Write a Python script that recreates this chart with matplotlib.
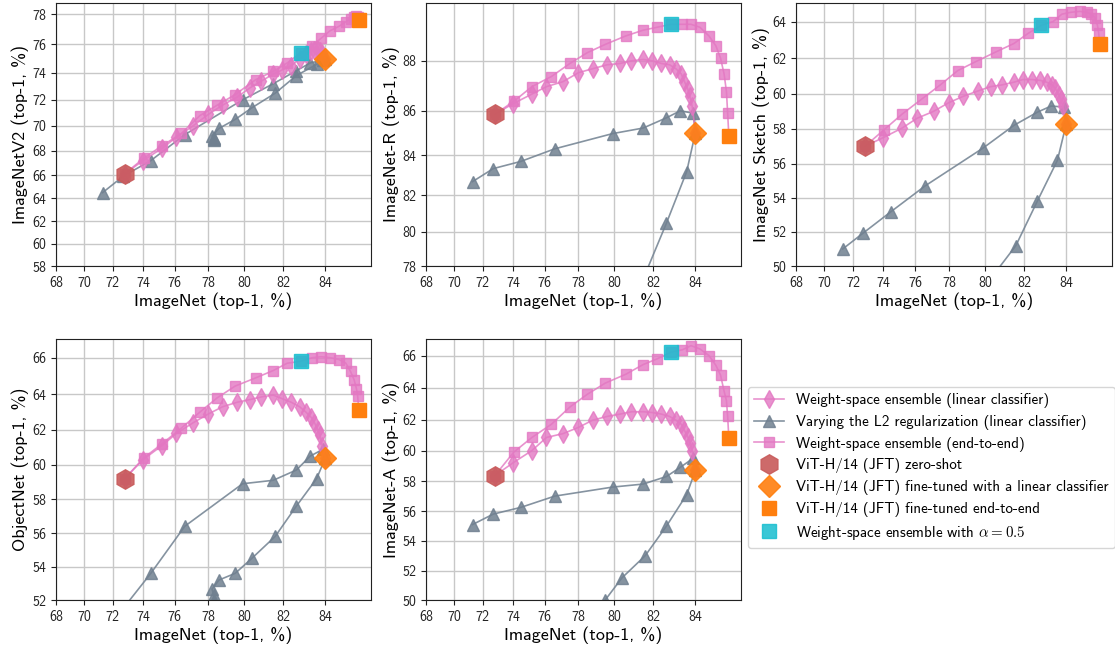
import numpy as np
import matplotlib
matplotlib.use("Agg")
import matplotlib.pyplot as plt

plt.rcParams['font.family'] = ['cmss10', 'DejaVu Sans']
plt.rcParams['mathtext.fontset'] = 'cm'
plt.rcParams['axes.unicode_minus'] = False

# ImageNet (x) accuracy, shared by every panel
imagenet_wse_lc = [72.8, 74.0, 75.2, 76.1, 77.1, 78.0, 78.8, 79.6, 80.3, 80.9, 81.5,
                   81.95, 82.4, 82.8, 83.1, 83.35, 83.5, 83.65, 83.75, 83.85, 84.0]
imagenet_wse_e2e = [72.8, 74.05, 75.2, 76.4, 77.5, 78.5, 79.5, 80.6, 81.5, 82.2, 82.85,
                    83.4, 83.8, 84.2, 84.6, 84.9, 85.1, 85.25, 85.35, 85.4, 85.45]
imagenet_l2 = [71.3, 72.7, 74.5, 76.6, 79.9, 81.5, 82.65, 83.3, 83.9, 84.0,
               83.6, 82.65, 81.6, 80.4, 79.5, 78.6, 78.2, 78.3, 78.3, 78.3]

imagenet_zeroshot = 72.8
imagenet_ft_lc = 84.0
imagenet_ft_e2e = 85.45
imagenet_alpha05 = 82.85

# distribution shift (y) accuracy, one set per panel
v2_wse_lc = [66.1, 67.2, 68.2, 69.1, 70.0, 70.9, 71.6, 72.2, 72.9, 73.4, 73.9,
             74.2, 74.5, 75.0, 75.3, 75.5, 75.6, 75.6, 75.5, 75.4, 75.0]
v2_wse_e2e = [66.1, 67.4, 68.4, 69.4, 70.8, 71.6, 72.4, 73.5, 74.1, 74.7, 75.4,
              75.9, 76.4, 76.9, 77.2, 77.5, 77.7, 77.8, 77.85, 77.8, 77.6]
v2_l2 = [64.5, 65.9, 67.2, 69.3, 72.0, 73.2, 74.15, 74.7, 74.9, 75.0,
         74.6, 73.8, 72.5, 71.4, 70.5, 69.8, 69.2, 69.05, 68.95, 68.9]

r_wse_lc = [85.85, 86.3, 86.7, 87.0, 87.2, 87.55, 87.7, 87.85, 87.9, 88.0, 88.05,
            88.0, 87.9, 87.85, 87.7, 87.5, 87.2, 86.9, 86.6, 86.2, 85.05]
r_wse_e2e = [85.85, 86.4, 87.0, 87.4, 87.9, 88.3, 88.6, 88.9, 89.1, 89.2, 89.3,
             89.3, 89.3, 89.2, 88.9, 88.55, 88.1, 87.5, 86.8, 85.9, 84.9]
r_l2 = [82.7, 83.35, 83.7, 84.3, 85.0, 85.25, 85.7, 86.0, 85.9, 85.05,
        83.2, 80.5, 77.5, 75.5, 74.0, 72.5, 71.5, 71.0, 70.7, 70.5]

sketch_wse_lc = [57.0, 57.5, 58.05, 58.6, 59.0, 59.5, 59.85, 60.15, 60.4, 60.5, 60.65,
                 60.8, 60.8, 60.75, 60.65, 60.5, 60.3, 59.95, 59.7, 59.3, 58.3]
sketch_wse_e2e = [57.0, 57.95, 58.85, 59.7, 60.5, 61.3, 61.8, 62.35, 62.8, 63.35, 63.8,
                  64.0, 64.4, 64.5, 64.55, 64.5, 64.4, 64.2, 63.8, 63.4, 62.8]
sketch_l2 = [51.0, 51.95, 53.2, 54.7, 56.9, 58.2, 58.95, 59.3, 59.25, 58.3,
             56.2, 53.8, 51.2, 49.4, 48.3, 47.3, 46.8, 46.5, 46.3, 46.2]

objnet_wse_lc = [59.2, 60.3, 61.1, 61.8, 62.4, 62.9, 63.3, 63.55, 63.7, 63.85, 63.95,
                 63.75, 63.55, 63.3, 63.0, 62.7, 62.4, 62.0, 61.7, 61.1, 60.4]
objnet_wse_e2e = [59.2, 60.4, 61.2, 62.1, 63.0, 63.8, 64.45, 64.9, 65.3, 65.7, 65.8,
                  66.0, 66.05, 66.0, 65.9, 65.7, 65.25, 64.8, 64.3, 63.9, 63.1]
objnet_l2 = [50.4, 51.5, 53.6, 56.4, 58.9, 59.1, 59.7, 60.5, 60.9, 60.4,
             59.2, 57.6, 55.8, 54.5, 53.6, 53.2, 52.65, 52.3, 52.0, 51.8]

a_wse_lc = [58.35, 59.2, 60.0, 60.85, 61.1, 61.5, 61.96, 62.2, 62.35, 62.5, 62.5,
            62.45, 62.35, 62.2, 61.96, 61.7, 61.3, 60.9, 60.5, 60.0, 58.7]
a_wse_e2e = [58.35, 59.9, 60.85, 61.7, 62.8, 63.6, 64.3, 64.85, 65.45, 65.8, 66.2,
             66.35, 66.6, 66.4, 66.0, 65.4, 64.8, 63.8, 63.2, 62.2, 60.8]
a_l2 = [55.1, 55.8, 56.25, 57.0, 57.6, 57.8, 58.3, 58.9, 59.5, 58.7,
        57.1, 55.0, 53.0, 51.5, 50.0, 49.0, 48.5, 48.2, 48.0, 47.9]

panels = [
    ("ImageNetV2 (top-1, %)", v2_wse_lc, v2_wse_e2e, v2_l2, (58, 78.7), range(58, 79, 2)),
    ("ImageNet-R (top-1, %)", r_wse_lc, r_wse_e2e, r_l2, (78, 90), range(78, 89, 2)),
    ("ImageNet Sketch (top-1, %)", sketch_wse_lc, sketch_wse_e2e, sketch_l2, (50, 65), range(50, 65, 2)),
    ("ObjectNet (top-1, %)", objnet_wse_lc, objnet_wse_e2e, objnet_l2, (52, 67), range(52, 67, 2)),
    ("ImageNet-A (top-1, %)", a_wse_lc, a_wse_e2e, a_l2, (50, 67), range(50, 67, 2)),
]

pink = '#e377c2'
slate = '#708090'


# axes are logit scaled, on percentages
def fwd(p):
    p = np.clip(p, 1e-6, 100 - 1e-6)
    return np.log(p / (100 - p))


def inv(z):
    return 100 / (1 + np.exp(-z))


fig = plt.figure(figsize=(11.15, 6.46), dpi=100)
W, H = 1115, 646
boxes = [(56, 3, 371, 266), (426, 3, 741, 266), (796, 3, 1112, 266),
         (56, 339, 371, 600), (426, 339, 741, 600)]

handles = None
for (ylabel, wse_lc, wse_e2e, l2, ylim, yticks), (x0, y0, x1, y1) in zip(panels, boxes):
    ax = fig.add_axes([x0 / W, 1 - y1 / H, (x1 - x0) / W, (y1 - y0) / H])
    ax.set_xscale('function', functions=(fwd, inv))
    ax.set_yscale('function', functions=(fwd, inv))

    h1, = ax.plot(imagenet_wse_lc, wse_lc, color=pink, marker='d', ms=9, lw=1.2,
                  alpha=0.8, label='Weight-space ensemble (linear classifier)', zorder=3)
    h2, = ax.plot(imagenet_l2, l2, color=slate, marker='^', ms=9, lw=1.2,
                  alpha=0.85, label='Varying the L2 regularization (linear classifier)', zorder=2)
    h3, = ax.plot(imagenet_wse_e2e, wse_e2e, color=pink, marker='s', ms=7, lw=1.2,
                  alpha=0.8, label='Weight-space ensemble (end-to-end)', zorder=3)
    h4, = ax.plot([imagenet_zeroshot], [wse_lc[0]], color='#c85a5a', marker='h', ms=14,
                  ls='none', alpha=0.9, label='ViT-H/14 (JFT) zero-shot', zorder=5)
    h5, = ax.plot([imagenet_ft_lc], [wse_lc[-1]], color='#ff7f0e', marker='D', ms=11,
                  ls='none', alpha=0.9, label='ViT-H/14 (JFT) fine-tuned with a linear classifier', zorder=5)
    h6, = ax.plot([imagenet_ft_e2e], [wse_e2e[-1]], color='#ff7f0e', marker='s', ms=10,
                  ls='none', label='ViT-H/14 (JFT) fine-tuned end-to-end', zorder=5)
    h7, = ax.plot([imagenet_alpha05], [wse_e2e[10]], color='#17becf', marker='s', ms=10,
                  ls='none', alpha=0.85, label=r'Weight-space ensemble with $\alpha=0.5$', zorder=5)
    if handles is None:
        handles = [h1, h2, h3, h4, h5, h6, h7]

    ax.set_xlim(68, 85.95)
    ax.set_ylim(*ylim)
    ax.set_xticks(range(68, 85, 2))
    ax.set_yticks(list(yticks))
    ax.minorticks_off()
    ax.grid(True, color='#c8c8c8', lw=1)
    ax.set_axisbelow(True)
    ax.tick_params(labelsize=10, colors='#222222')
    for s in ax.spines.values():
        s.set_color('#222222')
    ax.set_xlabel('ImageNet (top-1, %)', fontsize=13, labelpad=2)
    ax.set_ylabel(ylabel, fontsize=13, labelpad=2)

fig.legend(handles=handles, loc='upper left', bbox_to_anchor=(748 / W, 1 - 387 / H),
           borderaxespad=0, fontsize=10.8, labelspacing=0.45, frameon=True)

fig.savefig('out.png', dpi=100)
